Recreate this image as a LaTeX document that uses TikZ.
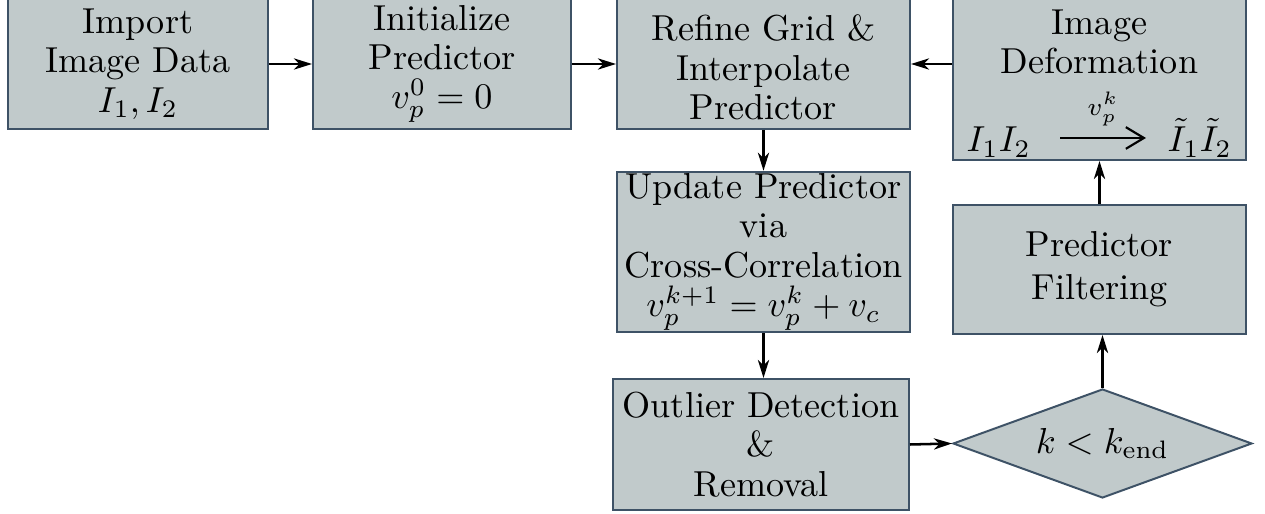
\documentclass[tikz,border=0pt]{standalone}
\usepackage{amsmath}
\usetikzlibrary{arrows.meta,shapes.geometric}
\definecolor{fillcol}{RGB}{193,202,203}
\definecolor{bordercol}{RGB}{62,82,102}
\newcommand{\topstrut}{\rule{0pt}{9pt}}
\tikzset{
  box/.style={draw=bordercol, fill=fillcol, line width=0.55pt, align=center,
    inner sep=0.5pt, font=\fontsize{10}{10.9}\selectfont},
  txt/.style={align=center, inner sep=0pt, font=\fontsize{10}{10.9}\selectfont},
  dia/.style={box, shape=diamond, shape aspect=2.74},
  arr/.style={-{Stealth[length=5pt,width=3.1pt,inset=1.5pt]}, line width=0.7pt},
  maparr/.style={-{Straight Barb[length=5pt,width=6pt,line width=0.6pt]}, line width=0.55pt},
}
\begin{document}
\begin{tikzpicture}[x=0.277pt,y=-0.277pt]
\useasboundingbox (0,0) rectangle (1265,514);
\node[box, minimum width={260*0.277pt}, minimum height={130*0.277pt}] (imp) at (138,64)
  {Import\\Image Data\\$I_1, I_2$};
\node[box, minimum width={258*0.277pt}, minimum height={130*0.277pt}] (init) at (442,64)
  {Initialize\\Predictor\\$v_p^0 = 0$};
\node[box, minimum width={293*0.277pt}, minimum height={130*0.277pt}] (ref) at (763.5,64)
  {\topstrut Refine Grid \&\\Interpolate\\Predictor};
% image deformation box
\node[box, minimum width={293*0.277pt}, minimum height={161*0.277pt}] (def) at (1099.5,79.5) {};
\node[txt, anchor=south] (deftxt) at (1099.5,75) {Image\\Deformation};
\node[txt, anchor=base west] (i12) at (966,152) {$I_1 I_2$};
\node[txt, anchor=base west] (ti12) at (1167,152) {$\tilde I_1 \tilde I_2$};
\coordinate (ma) at (1060,138);
\coordinate (mb) at (1146,138);
\draw[maparr] (ma) -- node[txt, above=3pt] (vpk) {$\scriptstyle v_p^k$} (mb);
\node[box, minimum width={293*0.277pt}, minimum height={160*0.277pt}] (upd) at (763.5,252)
  {Update Predictor\\via\\Cross-Correlation\\$v_p^{k+1} = v_p^k + v_c$};
\node[box, minimum width={296*0.277pt}, minimum height={131*0.277pt}] (out) at (761,444.5)
  {Outlier Detection\\\&\\Removal};
\node[box, minimum width={293*0.277pt}, minimum height={129*0.277pt}] (filt) at (1099.5,269.5)
  {Predictor\\[1pt]Filtering};
\node[dia, minimum width={299*0.277pt}, minimum height={109*0.277pt}, inner sep=0pt] (cond) at (1102.5,443.5)
  {$k < k_{\text{end}}$};
\draw[arr] (imp.east) -- (init.west);
\draw[arr] (init.east) -- (ref.west);
\draw[arr] (def.west |- ref.east) -- (ref.east);
\draw[arr] (ref.south) -- (upd.north);
\draw[arr] (upd.south) -- (upd.south |- out.north);
\draw[arr] (out.east) -- (cond.west);
\draw[arr] (cond.north) -- (cond.north |- filt.south);
\draw[arr] (filt.north) -- (def.south);
\end{tikzpicture}
\end{document}
